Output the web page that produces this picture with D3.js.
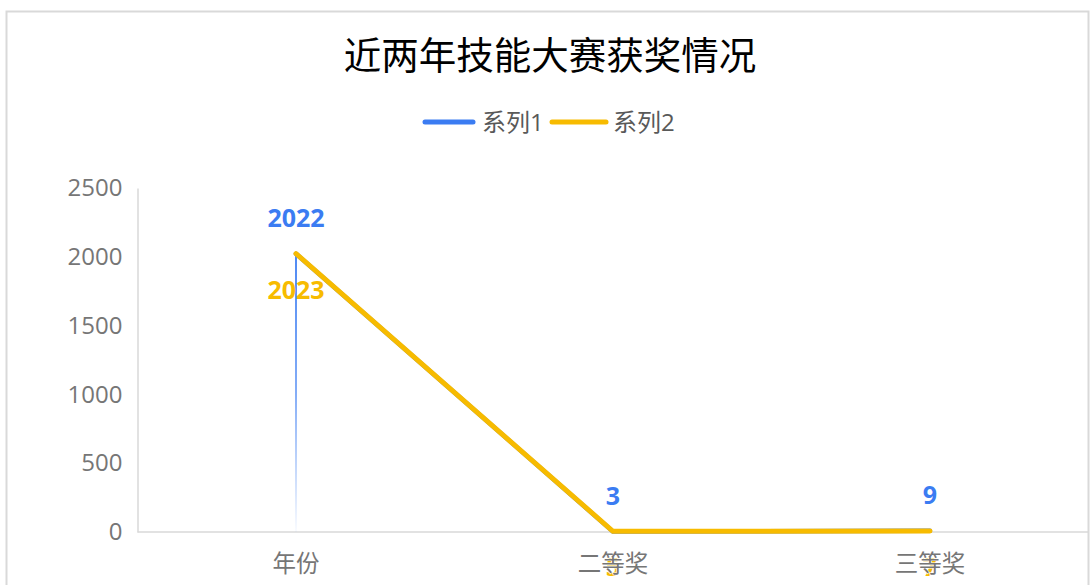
<!DOCTYPE html>
<html>
<head>
<meta charset="utf-8">
<script src="https://cdn.jsdelivr.net/npm/d3@7"></script>
<style>
body{margin:0;background:#fff;}
text{font-family:"Open Sans","Noto Sans CJK SC",sans-serif;}
</style>
</head>
<body>
<svg id="svg_canvas" width="1091" height="585"></svg>
<script>
// chart values
var categories=["年份","二等奖","三等奖"];
var series1=[2022,3,9];
var series2=[2023,5,7];
var series_names=["系列1","系列2"];
var y_ticks=[0,500,1000,1500,2000,2500];
var title="近两年技能大赛获奖情况";

var blue="#3b7cf2";
var yellow="#f7bb00";
var grey="#767676";

var svg=d3.select("#svg_canvas");

// frame round the chart area
svg.append("rect")
	.attr("x",6.5).attr("y",11.5)
	.attr("width",1082).attr("height",620)
	.attr("fill","none")
	.attr("stroke","#d9d9d9")
	.attr("stroke-width",2);

var left_x=137.5, right_x=1088.5, top_y=188, bottom_y=532;

var x=d3.scalePoint().domain(categories).range([left_x,right_x]).padding(0.5);
var y=d3.scaleLinear().domain([0,2500]).range([bottom_y,top_y]);

// title
svg.append("text")
	.attr("x",550).attr("y",69)
	.attr("text-anchor","middle")
	.attr("font-size",37.5)
	.attr("fill","#000")
	.text(title);

// legend
var legend=[{name:series_names[0],color:blue,x1:425,x2:473,tx:482},
            {name:series_names[1],color:yellow,x1:552,x2:606,tx:613}];
var lg=svg.selectAll("g.legend").data(legend).enter().append("g").attr("class","legend");
lg.append("line")
	.attr("x1",function(d){return d.x1;}).attr("x2",function(d){return d.x2;})
	.attr("y1",122).attr("y2",122)
	.attr("stroke",function(d){return d.color;})
	.attr("stroke-width",5)
	.attr("stroke-linecap","round");
lg.append("text")
	.attr("x",function(d){return d.tx;}).attr("y",131)
	.attr("font-size",24)
	.attr("fill","#595959")
	.text(function(d){return d.name;});

// y axis
var yAxis=d3.axisLeft(y).tickValues(y_ticks).tickFormat(d3.format("d")).tickSize(0).tickPadding(15);
var yg=svg.append("g").attr("transform","translate("+left_x+",0)").call(yAxis);
yg.select(".domain").attr("stroke","#d9d9d9").attr("stroke-width",1.5);
yg.selectAll("text").attr("font-size",24).attr("fill",grey).attr("font-family",null);

// baseline
svg.append("line")
	.attr("x1",left_x).attr("x2",right_x)
	.attr("y1",bottom_y).attr("y2",bottom_y)
	.attr("stroke","#d9d9d9").attr("stroke-width",1.5);

// gradient drop line under first point
var defs=svg.append("defs");
var grad=defs.append("linearGradient").attr("id","drop_grad")
	.attr("gradientUnits","userSpaceOnUse")
	.attr("x1",0).attr("x2",0).attr("y1",y(series1[0])).attr("y2",bottom_y);
grad.append("stop").attr("offset","0").attr("stop-color",blue);
grad.append("stop").attr("offset","0.5").attr("stop-color",blue).attr("stop-opacity",0.7);
grad.append("stop").attr("offset","1").attr("stop-color",blue).attr("stop-opacity",0.03);

svg.append("line")
	.attr("x1",x(categories[0])).attr("x2",x(categories[0]))
	.attr("y1",y(series1[0])).attr("y2",bottom_y)
	.attr("stroke","url(#drop_grad)")
	.attr("stroke-width",1.8);

var line=d3.line()
	.x(function(d,i){return x(categories[i]);})
	.y(function(d){return y(d);});

svg.append("path").datum(series1)
	.attr("d",line)
	.attr("fill","none")
	.attr("stroke",blue)
	.attr("stroke-width",4.5)
	.attr("stroke-linecap","round")
	.attr("stroke-linejoin","round");

svg.append("path").datum(series2)
	.attr("d",line)
	.attr("fill","none")
	.attr("stroke",yellow)
	.attr("stroke-width",5)
	.attr("stroke-linecap","round")
	.attr("stroke-linejoin","round");

// data labels, series1 above, series2 below
svg.selectAll("text.lab1").data(series1).enter().append("text")
	.attr("class","lab1")
	.attr("x",function(d,i){return x(categories[i]);})
	.attr("y",function(d){return y(d)-27;})
	.attr("text-anchor","middle")
	.attr("font-size",25).attr("font-weight","bold")
	.attr("fill",blue)
	.text(function(d){return d;});

svg.selectAll("text.lab2").data(series2).enter().append("text")
	.attr("class","lab2")
	.attr("x",function(d,i){return x(categories[i]);})
	.attr("y",function(d){return y(d)+45;})
	.attr("text-anchor","middle")
	.attr("font-size",25).attr("font-weight","bold")
	.attr("fill",yellow)
	.text(function(d){return d;});

// category labels drawn last, with a white halo
svg.selectAll("text.cat").data(categories).enter().append("text")
	.attr("class","cat")
	.attr("x",function(d){return x(d);})
	.attr("y",572)
	.attr("text-anchor","middle")
	.attr("font-size",23.5)
	.attr("fill",grey)
	.attr("stroke","#fff").attr("stroke-width",1.2)
	.attr("paint-order","stroke")
	.text(function(d){return d;});
</script>
</body>
</html>
